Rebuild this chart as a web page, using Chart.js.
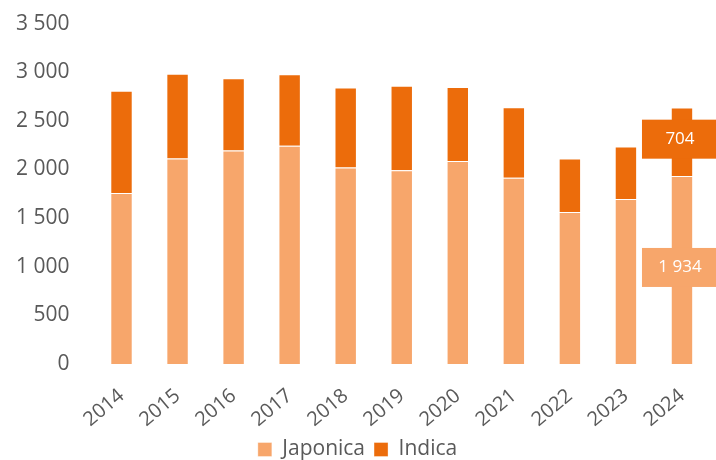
<!DOCTYPE html>
<html lang="en">
<head>
    <meta charset="UTF-8">
    <title>Japonica / Indica</title>
    <script src="https://cdn.jsdelivr.net/npm/chart.js"></script>
    <style>
        html, body { margin: 0; padding: 0; background: #fff; overflow: hidden; }
        #wrap { width: 716px; height: 460px; overflow: hidden; }
        #inner { width: 716px; height: 470px; }
    </style>
</head>
<body>
    <div id="wrap">
        <!-- a bit taller than the window so the legend sits low like the original -->
        <div id="inner">
            <canvas id="rice-chart"></canvas>
        </div>
    </div>

    <script>
        const years = ['2014', '2015', '2016', '2017', '2018', '2019', '2020', '2021', '2022', '2023', '2024'];
        const japonica = [1759, 2112, 2195, 2243, 2020, 1993, 2088, 1914, 1564, 1697, 1934];
        const indica = [1050, 872, 744, 737, 823, 867, 759, 727, 548, 539, 704];

        const japColor = '#F7A66B';
        const indColor = '#EC6C0B';
        const textColor = '#595959';
        const fontName = "'Open Sans', sans-serif";

        function spaced(n) {
            return String(Math.round(n)).replace(/\B(?=(\d{3})+(?!\d))/g, ' ');
        }

        // labels for the last year only, boxed like in the source chart
        const lastLabels = {
            id: 'lastLabels',
            afterDatasetsDraw(chart) {
                const ctx = chart.ctx;
                const last = years.length - 1;
                ctx.save();
                ctx.font = '17px ' + fontName;
                ctx.textAlign = 'center';
                ctx.textBaseline = 'middle';
                chart.data.datasets.forEach((ds, i) => {
                    const bar = chart.getDatasetMeta(i).data[last];
                    const cy = (bar.y + bar.base) / 2 - 2.5;
                    const w = 80, h = 39;
                    ctx.fillStyle = ds.backgroundColor;
                    ctx.fillRect(bar.x - w / 2, cy - h / 2, w, h);
                    ctx.fillStyle = '#fff';
                    ctx.fillText(spaced(ds.data[last]), bar.x - 2, cy);
                });
                ctx.restore();
            }
        };

        const ctx = document.getElementById('rice-chart').getContext('2d');
        new Chart(ctx, {
            type: 'bar',
            data: {
                labels: years,
                datasets: [{
                    label: 'Japonica',
                    data: japonica,
                    backgroundColor: japColor,
                    borderColor: 'rgba(255,255,255,0.35)',
                    borderWidth: 1
                }, {
                    label: 'Indica',
                    data: indica,
                    backgroundColor: indColor,
                    borderColor: 'rgba(255,255,255,0.35)',
                    borderWidth: 1
                }]
            },
            options: {
                responsive: true,
                maintainAspectRatio: false,
                animation: false,
                layout: { padding: { top: 0, right: 6, left: 5, bottom: 0 } },
                datasets: {
                    bar: { categoryPercentage: 1, barPercentage: 0.4 }
                },
                scales: {
                    x: {
                        stacked: true,
                        // hidden tick marks, their length just moves the labels down
                        grid: { display: false, drawTicks: true, tickLength: 20 },
                        border: { display: false },
                        ticks: {
                            color: textColor,
                            font: { family: fontName, size: 20 },
                            maxRotation: 40,
                            minRotation: 40,
                            padding: 0
                        },
                        afterFit: scale => { scale.height = 66; }
                    },
                    y: {
                        stacked: true,
                        min: 0,
                        max: 3500,
                        grid: { display: false, drawTicks: true, tickLength: 13 },
                        border: { display: false },
                        ticks: {
                            stepSize: 500,
                            color: textColor,
                            padding: 11,
                            font: { family: fontName, size: 21 },
                            callback: v => spaced(v)
                        }
                    }
                },
                plugins: {
                    legend: {
                        position: 'bottom',
                        labels: {
                            color: textColor,
                            font: { family: fontName, size: 21 },
                            boxWidth: 14,
                            boxHeight: 14,
                            padding: 9
                        }
                    },
                    tooltip: { enabled: false }
                }
            },
            plugins: [lastLabels]
        });
    </script>
</body>
</html>
